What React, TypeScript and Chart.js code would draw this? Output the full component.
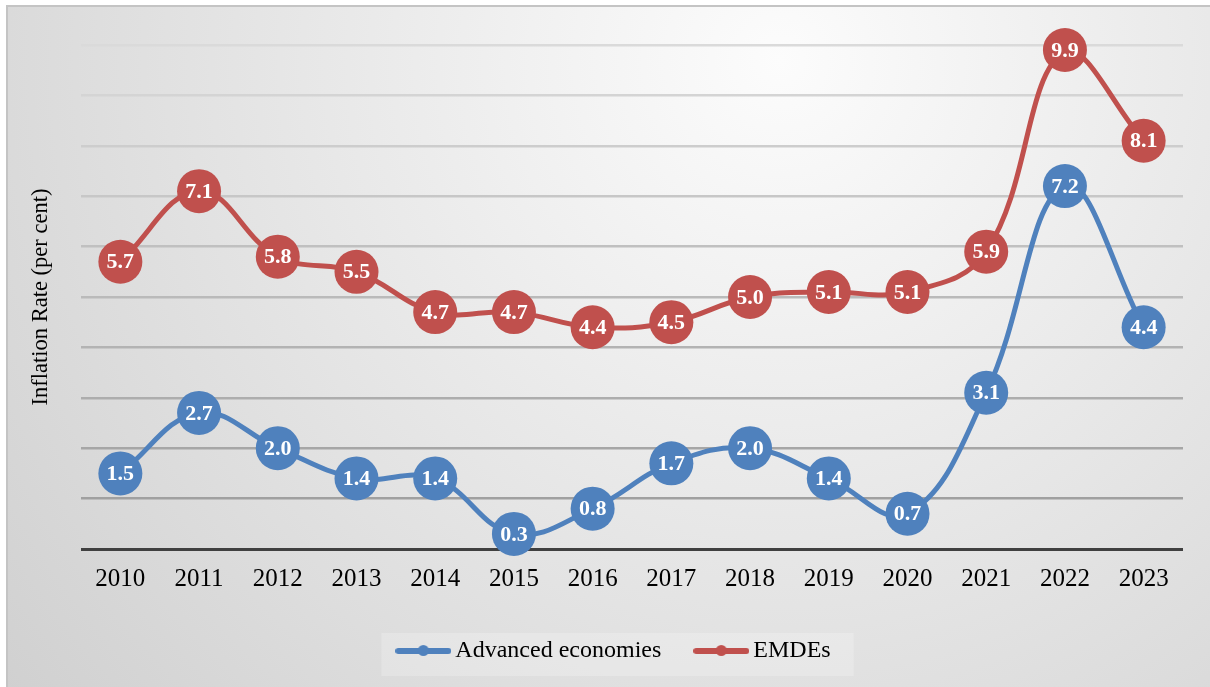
import React, { useEffect, useRef } from "react";
import { Chart, registerables } from "chart.js";

Chart.register(...registerables);

const years = ["2010", "2011", "2012", "2013", "2014", "2015", "2016", "2017", "2018", "2019", "2020", "2021", "2022", "2023"];
const advanced = [1.5, 2.7, 2.0, 1.4, 1.4, 0.3, 0.8, 1.7, 2.0, 1.4, 0.7, 3.1, 7.2, 4.4];
const emdes = [5.7, 7.1, 5.8, 5.5, 4.7, 4.7, 4.4, 4.5, 5.0, 5.1, 5.1, 5.9, 9.9, 8.1];
const seriesNames = ["Advanced economies", "EMDEs"];
const seriesColors = ["#4F81BD", "#C0504D"];
const yTitle = "Inflation Rate (per cent)";
const yMin = 0;
const yMax = 10;
const yStep = 1;

const SERIF = '"Liberation Serif", "Times New Roman", Times, serif';

function makeLegendIcon(color: string): HTMLCanvasElement {
  const c = document.createElement("canvas");
  c.width = 56;
  c.height = 14;
  const g = c.getContext("2d")!;
  g.strokeStyle = color;
  g.lineWidth = 6;
  g.lineCap = "round";
  g.beginPath();
  g.moveTo(3, 7);
  g.lineTo(53, 7);
  g.stroke();
  g.fillStyle = color;
  g.beginPath();
  g.arc(28, 6.5, 5.5, 0, Math.PI * 2);
  g.fill();
  return c;
}

const backgroundPlugin = {
  id: "bgPlugin",
  beforeDraw(chart: any) {
    const ctx = chart.ctx as CanvasRenderingContext2D;
    const W = chart.width;
    const H = chart.height;
    ctx.save();
    ctx.fillStyle = "#ffffff";
    ctx.fillRect(0, 0, W, H);
    const grad = ctx.createRadialGradient(780, 60, 0, 780, 60, 1000);
    grad.addColorStop(0, "#fcfcfc");
    grad.addColorStop(1, "#d0d0d0");
    ctx.fillStyle = grad;
    ctx.fillRect(7, 6, W - 7, H - 6);
    ctx.strokeStyle = "#c4c4c4";
    ctx.lineWidth = 2;
    ctx.beginPath();
    ctx.moveTo(7, H + 2);
    ctx.lineTo(7, 6);
    ctx.lineTo(W + 2, 6);
    ctx.stroke();
    // legend lighter box
    const lg = chart.legend;
    if (lg && lg.legendHitBoxes && lg.legendHitBoxes.length) {
      const boxes = lg.legendHitBoxes;
      let l = Infinity, r = -Infinity, t = Infinity, b = -Infinity;
      boxes.forEach((h: any) => {
        l = Math.min(l, h.left);
        r = Math.max(r, h.left + h.width);
        t = Math.min(t, h.top);
        b = Math.max(b, h.top + h.height);
      });
      ctx.fillStyle = "rgba(255,255,255,0.22)";
      ctx.fillRect(l - 22, t - 6, r - l + 45, b - t + 19);
    }
    ctx.restore();
  },
};

const dataLabelPlugin = {
  id: "dataLabels",
  afterDatasetsDraw(chart: any) {
    const ctx = chart.ctx as CanvasRenderingContext2D;
    ctx.save();
    ctx.font = `bold 22px ${SERIF}`;
    ctx.fillStyle = "#ffffff";
    ctx.textAlign = "center";
    ctx.textBaseline = "middle";
    chart.data.datasets.forEach((ds: any, i: number) => {
      const meta = chart.getDatasetMeta(i);
      meta.data.forEach((el: any, j: number) => {
        const v = ds.data[j];
        ctx.fillText(Number(v).toFixed(1), el.x, el.y + 1);
      });
    });
    ctx.restore();
  },
};

export default function App() {
  const ref = useRef<HTMLCanvasElement | null>(null);

  useEffect(() => {
    if (!ref.current) return;
    const icons = seriesColors.map((c) => makeLegendIcon(c));
    const mkDs = (i: number, data: number[]) => ({
      label: seriesNames[i],
      data,
      borderColor: seriesColors[i],
      backgroundColor: seriesColors[i],
      pointBackgroundColor: seriesColors[i],
      pointBorderColor: seriesColors[i],
      borderWidth: 5,
      pointRadius: 22,
      pointBorderWidth: 0,
      pointHoverRadius: 22,
      tension: 0.4,
      fill: false,
      clip: false as any,
    });
    const chart = new Chart(ref.current, {
      type: "line",
      data: {
        labels: years,
        datasets: [mkDs(0, advanced), mkDs(1, emdes)],
      },
      options: {
        responsive: false,
        animation: false,
        events: [],
        layout: { padding: { left: 24, right: 0, top: 45, bottom: 14 } },
        plugins: {
          tooltip: { enabled: false },
          legend: {
            position: "bottom",
            labels: {
              usePointStyle: true,
              pointStyleWidth: 40,
              padding: 40,
              color: "#000000",
              font: { family: SERIF, size: 24 },
              generateLabels: (ch: any) =>
                ch.data.datasets.map((ds: any, i: number) => ({
                  text: ds.label,
                  fillStyle: seriesColors[i],
                  strokeStyle: seriesColors[i],
                  lineWidth: 0,
                  pointStyle: icons[i],
                  hidden: false,
                  datasetIndex: i,
                  fontColor: "#000000",
                })),
            },
          },
        },
        scales: {
          x: {
            offset: true,
            grid: { display: false, offset: true },
            border: { display: false },
            ticks: {
              color: "#000000",
              font: { family: SERIF, size: 25 },
              padding: 7,
              maxRotation: 0,
              autoSkip: false,
            },
            afterFit: (s: any) => {
              s.height = 50;
              s.paddingLeft = 0;
              s.paddingRight = 0;
            },
          },
          y: {
            min: yMin,
            max: yMax,
            ticks: { display: false, stepSize: yStep },
            border: { display: false },
            grid: {
              drawTicks: false,
              color: (c: any) => {
                const v = c.tick ? c.tick.value : 0;
                if (v === 0) return "#404040";
                const t = (v - 1) / 9;
                const g = Math.round(160 + t * (218 - 160));
                return `rgb(${g},${g},${g})`;
              },
              lineWidth: (c: any) => (c.tick && c.tick.value === 0 ? 3 : 2.5),
            },
            title: {
              display: true,
              text: yTitle,
              color: "#000000",
              font: { family: SERIF, size: 22.5 },
              padding: { top: 4, bottom: 0 },
            },
            afterFit: (s: any) => {
              s.width = 57;
            },
          },
          y2: {
            position: "right",
            display: true,
            grid: { display: false },
            border: { display: false },
            ticks: { display: false },
            afterFit: (s: any) => {
              s.width = 27;
            },
          },
        },
      } as any,
      plugins: [backgroundPlugin, dataLabelPlugin],
    });
    return () => chart.destroy();
  }, []);

  return (
    <canvas
      ref={ref}
      width={1210}
      height={687}
      style={{ position: "absolute", left: 0, top: 0, width: 1210, height: 687, display: "block" }}
    />
  );
}
